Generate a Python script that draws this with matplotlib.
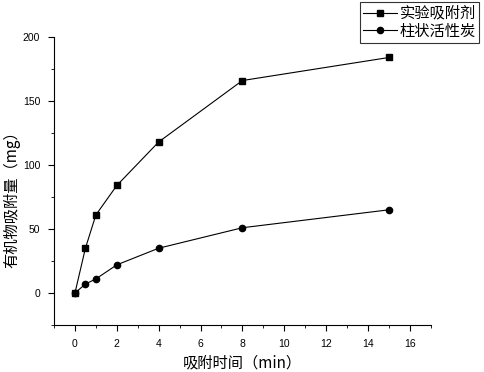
import matplotlib
matplotlib.use("Agg")
import matplotlib.pyplot as plt
from matplotlib.ticker import MultipleLocator

plt.rcParams['font.family'] = ['Noto Sans CJK SC', 'DejaVu Sans']

time = [0, 0.5, 1, 2, 4, 8, 15]
exp_adsorbent = [0, 35, 61, 84, 118, 166, 184]
activated_carbon = [0, 7, 11, 22, 35, 51, 65]

fig = plt.figure(figsize=(4.84, 3.72), dpi=100)
ax = fig.add_axes([0.1116, 0.1263, 0.7784, 0.7742])

ax.plot(time, exp_adsorbent, color="black", lw=0.8, marker="s", ms=4.5, label="实验吸附剂")
ax.plot(time, activated_carbon, color="black", lw=0.8, marker="o", ms=4.5, label="柱状活性炭")

ax.set_xlim(-1, 17)
ax.set_ylim(-25, 200)
ax.xaxis.set_major_locator(MultipleLocator(2))
ax.xaxis.set_minor_locator(MultipleLocator(1))
ax.yaxis.set_major_locator(MultipleLocator(50))
ax.yaxis.set_minor_locator(MultipleLocator(25))
ax.spines["top"].set_visible(False)
ax.spines["right"].set_visible(False)
ax.tick_params(which="major", direction="out", length=4, labelsize=7.5, pad=6)
ax.tick_params(which="minor", direction="out", length=2.5)
for lab in ax.get_xticklabels() + ax.get_yticklabels():
    lab.set_family("Liberation Sans")

ax.set_xlabel("吸附时间（min）", fontsize=11)
ax.set_ylabel("有机物吸附量（mg）", fontsize=11)
ax.yaxis.set_label_coords(-0.09, 0.45)

leg = fig.legend(loc="upper right", bbox_to_anchor=(0.99, 0.995), fontsize=11,
                 frameon=True, fancybox=False, edgecolor="black",
                 handlelength=2.2, handletextpad=0.2, borderpad=0.2, labelspacing=0.05,
                 borderaxespad=0)
leg.get_frame().set_linewidth(0.8)

fig.savefig("out.png", dpi=100)
